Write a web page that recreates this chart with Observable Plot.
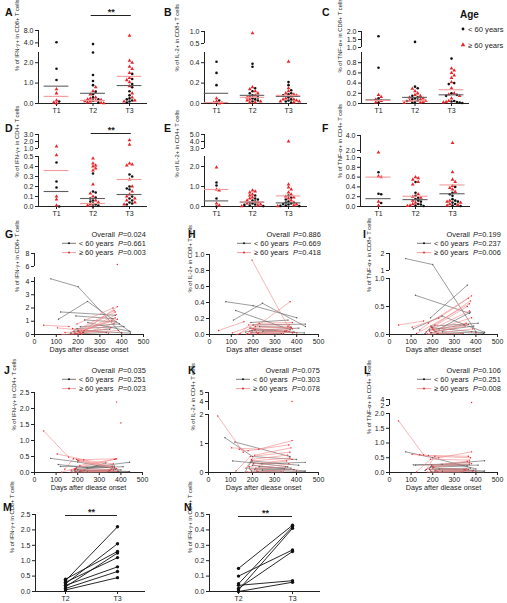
<!DOCTYPE html>
<html>
<head>
<meta charset="utf-8">
<script src="https://cdn.jsdelivr.net/npm/d3@7"></script>
<script src="https://cdn.jsdelivr.net/npm/@observablehq/plot@0.6"></script>
<style>
  html, body { margin: 0; padding: 0; background: #fff; overflow: hidden; }
  #fig { position: relative; width: 507px; height: 603px; background: #fff; }
</style>
</head>
<body>
<div id="fig"></div>
<script>
// ---------------------------------------------------------------------------
// Cytokine-producing T cells over time, split by age group.
// Patient-level table: age group, sampling day at T1/T2/T3 and the six
// measurements ([T1, T2, T3], null = not sampled).
// ---------------------------------------------------------------------------
const patients = ["B1","B2","B3","B4","B5","B6","B7","B8","B9","B10","B11","B12",
                  "R1","R2","R3","R4","R5","R6","R7","R8","R9","R10","R11","R12","R13","R14","R15"];
const YOUNG = "< 60 years", OLD = "≥ 60 years";
const ageGroup = [YOUNG,YOUNG,YOUNG,YOUNG,YOUNG,YOUNG,YOUNG,YOUNG,YOUNG,YOUNG,YOUNG,YOUNG,
                  OLD,OLD,OLD,OLD,OLD,OLD,OLD,OLD,OLD,OLD,OLD,OLD,OLD,OLD,OLD];
const dayT1 = [110,75,120,165,null,null,null,null,null,null,null,null,
               42,105,140,170,125,null,null,null,null,null,null,null,null,null,null];
const dayT2 = [243,200,null,195,190,200,230,185,210,245,195,225,
               158,228,180,210,190,195,200,205,185,215,190,220,null,null,175];
const dayT3 = [440,400,370,410,360,440,375,345,390,435,330,null,
               null,380,365,375,370,360,370,380,355,365,350,385,380,400,340];

const ifnCD8 = [[1.15,2.5,0.2],[4.2,3.6,0.05],[1.7,null,1.45],[0.1,0.45,0.6],[null,1.4,1.2],[null,0.3,0.1],
  [null,1.1,0.95],[null,0.2,0.4],[null,0.58,0.8],[null,0.9,0.25],[null,0.05,0.15],[null,0.15,null],
  [0.7,0.6,null],[0.5,0.3,2.1],[0.15,0.2,1.8],[0.05,0.12,1.5],[0.0,0.05,1.25],[null,0.8,2.0],[null,0.25,1.7],
  [null,0.18,1.15],[null,0.1,1.05],[null,0.03,0.85],[null,0.02,0.5],[null,0.15,0.3],[null,null,6.3],
  [null,null,0.15],[null,0.45,0.1]];
const il2CD8 = [[0.18,0.39,0.1],[0.41,0.36,0.21],[0.30,null,0.06],[0.03,0.05,0.08],[null,0.15,0.18],[null,0.12,0.13],
  [null,0.1,0.09],[null,0.08,0.04],[null,0.06,0.03],[null,0.04,0.02],[null,0.03,0.01],[null,0.02,null],
  [0.05,0.16,null],[0.02,0.14,0.15],[0.01,0.12,0.12],[0.005,0.1,0.08],[0.0,0.08,0.09],[null,0.93,0.1],[null,0.07,0.41],
  [null,0.06,0.07],[null,0.04,0.05],[null,0.03,0.04],[null,0.02,0.04],[null,0.01,0.03],[null,null,0.02],
  [null,null,0.02],[null,0.01,0.01]];
const tnfCD8 = [[0.1,0.33,0.04],[1.7,1.35,0.05],[0.7,null,0.38],[0.02,0.15,0.2],[null,0.3,0.88],[null,0.12,0.03],
  [null,0.1,0.4],[null,0.08,0.17],[null,0.06,0.15],[null,0.05,0.02],[null,0.03,0.01],[null,0.02,null],
  [0.17,0.24,null],[0.13,0.29,0.69],[0.08,0.2,0.65],[0.05,0.17,0.6],[0.02,0.15,0.55],[null,0.12,0.5],[null,0.1,0.42],
  [null,0.08,0.3],[null,0.06,0.2],[null,0.05,0.18],[null,0.03,0.15],[null,0.02,0.1],[null,null,0.05],
  [null,null,0.03],[null,0.01,0.02]];
const ifnCD4 = [[0.25,0.15,0.32],[0.44,0.33,0.08],[0.19,null,0.2],[0.0,0.14,0.18],[null,0.09,0.17],[null,0.08,0.03],
  [null,0.06,0.1],[null,0.05,0.06],[null,0.03,0.04],[null,0.02,0.02],[null,0.01,0.3],[null,0.0,null],
  [1.3,0.48,null],[0.58,0.4,0.43],[0.1,0.43,0.27],[0.07,0.22,0.42],[0.01,0.13,0.41],[null,0.41,0.2],[null,0.38,0.15],
  [null,0.36,0.12],[null,0.1,0.1],[null,0.06,0.08],[null,0.04,0.06],[null,0.02,0.04],[null,null,2.2],
  [null,null,1.55],[null,0.01,0.02]];
const il2CD4 = [[0.4,0.3,0.35],[1.2,0.55,0.45],[1.05,null,0.55],[0.0,0.4,0.25],[null,0.35,0.2],[null,0.25,0.05],
  [null,0.2,0.15],[null,0.15,0.12],[null,0.1,0.1],[null,0.08,0.03],[null,0.05,0.02],[null,0.02,null],
  [1.95,0.7,null],[0.85,0.8,1.1],[0.8,0.75,0.95],[0.15,0.6,0.85],[0.05,0.55,0.7],[null,0.45,0.6],[null,0.4,0.5],
  [null,0.3,0.45],[null,0.2,0.4],[null,0.15,0.3],[null,0.1,0.2],[null,0.05,0.1],[null,null,4.0],
  [null,null,0.05],[null,0.02,0.02]];
const tnfCD4 = [[0.26,0.28,0.4],[0.7,0.5,0.12],[0.25,null,0.28],[0.07,0.22,0.25],[null,0.18,0.22],[null,0.15,0.05],
  [null,0.12,0.15],[null,0.1,0.1],[null,0.05,0.08],[null,0.04,0.02],[null,0.02,0.01],[null,0.01,null],
  [1.75,0.6,null],[0.62,0.5,0.7],[0.6,0.58,0.55],[0.1,0.55,0.5],[0.02,0.45,0.42],[null,0.25,0.38],[null,0.2,0.35],
  [null,0.18,0.3],[null,0.12,0.12],[null,0.08,0.1],[null,0.05,0.08],[null,0.02,0.05],[null,null,3.0],
  [null,null,0.03],[null,0.01,0.02]];

// Group summary lines drawn across each time point (T1, T2, T3)
const meanIfnCD8 = {young: [0.85, 0.50, 0.88], old: [0.35, 0.15, 1.33]};
const meanIl2CD8 = {young: [0.10, 0.08, 0.07], old: [0.01, 0.06, 0.08]};
const meanTnfCD8 = {young: [0.07, 0.12, 0.17], old: [0.06, 0.05, 0.27]};
const meanIfnCD4 = {young: [0.15, 0.08, 0.12], old: [0.36, 0.03, 0.27]};
const meanIl2CD4 = {young: [0.28, 0.22, 0.18], old: [0.85, 0.23, 0.53]};
const meanTnfCD4 = {young: [0.16, 0.14, 0.26], old: [0.60, 0.21, 0.44]};

// Mixed-model P values: overall, < 60 years, ≥ 60 years
const pIfnCD8 = ["0.024", "0.661", "0.003"];
const pIl2CD8 = ["0.886", "0.669", "0.418"];
const pTnfCD8 = ["0.199", "0.237", "0.006"];
const pIfnCD4 = ["0.035", "0.251", "0.023"];
const pIl2CD4 = ["0.075", "0.303", "0.078"];
const pTnfCD4 = ["0.106", "0.251", "0.008"];

// Paired T2 -> T3 samples
const pairedCD8_T2 = [0.40, 0.35, 0.30, 0.25, 0.20, 0.15, 0.10, 0.05];
const pairedCD8_T3 = [1.30, 2.10, 1.10, 1.55, 0.80, 1.25, 0.65, 0.45];
const pairedCD4_T2 = [0.15, 0.10, 0.05, 0.04, 0.02, 0.01, 0.00];
const pairedCD4_T3 = [0.43, 0.27, 0.42, 0.07, 0.26, 0.41, 0.06];

const timeLabels = ["T1", "T2", "T3"];
const dayTicks = [0, 100, 200, 300, 400, 500];

// ---------------------------------------------------------------------------
const W = 507, H = 603;
const FONT = "Arial, 'Liberation Sans', Helvetica, sans-serif";
const AXIS = "#222";
const BLACK = "#111", RED = "#e8252a";
const BLACK_LINE = "#5a5a5a", RED_LINE = "#f08585";
const BLACK_MEAN = "#5f5f5f", RED_MEAN = "#f39a9a";
const TITLE_SIZE = 5.8;
const f1 = d3.format(".1f");
const fig = document.getElementById("fig");
const days = [dayT1, dayT2, dayT3];

function tidy(values) {
  const rows = [];
  patients.forEach((id, i) => values[i].forEach((v, k) => {
    if (v != null) rows.push({id, group: ageGroup[i], t: k + 1, day: days[k][i], v});
  }));
  return rows;
}

// simple beeswarm offset inside each time column (pixel based)
function swarm(rows, ys, pxPerUnit) {
  const out = [], gap = 2.7;
  for (const t of [1, 2, 3]) {
    const placed = [];
    rows.filter(r => r.t === t).sort((a, b) => d3.descending(a.v, b.v)).forEach(r => {
      const py = ys(r.v);
      let off = 0;
      for (let k = 0; k < 30; k++) {
        const cand = (k % 2 ? 1 : -1) * Math.ceil(k / 2) * gap;
        if (placed.every(p => Math.hypot(p.x - cand, p.y - py) >= gap)) { off = cand; break; }
      }
      placed.push({x: off, y: py});
      out.push({...r, xj: t + off / pxPerUnit});
    });
  }
  return out;
}

function svgStyle() {
  return `position:absolute;left:0;top:0;background:none;overflow:visible;max-width:none;width:${W}px;height:${H}px;font-family:${FONT};font-size:7px;color:${AXIS};`;
}

function frame(c) {
  return {
    width: W, height: H,
    marginLeft: c.axisX, marginRight: W - c.right,
    marginTop: d3.min(c.yRange), marginBottom: H - c.base,
    style: svgStyle()
  };
}

function yTitle(c) {
  return Plot.text([c.title], {frameAnchor: "left", rotate: -90, dx: c.titleX - c.axisX, dy: c.titleDy || 0,
    fontSize: TITLE_SIZE, fill: AXIS});
}

// Scatter of the three time points with group summary lines
function dotPanel(c) {
  const step = (c.t3 - c.t1) / 2;
  const x0 = 1 - (c.t1 - c.axisX) / step, x1 = 3 + (c.right - c.t3) / step;
  const ys = d3.scaleLinear(c.yDomain, c.yRange);
  const rows = swarm(tidy(c.values), ys, step);
  const yTop = c.yDomain[c.yDomain.length - 1];
  const mYoung = c.means.young.map((v, k) => ({t: k + 1, v}));
  const mOld = c.means.old.map((v, k) => ({t: k + 1, v}));
  const marks = [
    Plot.ruleY([0], {stroke: AXIS, strokeWidth: 1}),
    Plot.ruleX(c.segs, {x: () => x0, y1: d => d[0], y2: d => d[1], stroke: AXIS, strokeWidth: 1}),
    Plot.dot(rows.filter(r => r.group === YOUNG), {x: "xj", y: "v", r: 1.3, fill: BLACK, symbol: "circle"}),
    Plot.dot(rows.filter(r => r.group === OLD), {x: "xj", y: "v", r: 1.4, fill: RED, symbol: "triangle"}),
    Plot.ruleY(mYoung, {y: "v", x1: d => d.t - 0.34, x2: d => d.t + 0.34, stroke: BLACK_MEAN, strokeWidth: 1.1}),
    Plot.ruleY(mOld, {y: "v", x1: d => d.t - 0.34, x2: d => d.t + 0.34, stroke: RED_MEAN, strokeWidth: 1.1}),
    yTitle(c)
  ];
  if (c.sig) {
    marks.push(
      Plot.ruleY([yTop], {x1: c.sig[0], x2: c.sig[1], dy: c.sig[2], stroke: AXIS, strokeWidth: 1}),
      Plot.text(["**"], {x: (c.sig[0] + c.sig[1]) / 2, y: () => yTop, dy: c.sig[2] - 3, fontSize: 9, fontWeight: "bold", fill: AXIS})
    );
  }
  fig.appendChild(Plot.plot({
    ...frame(c),
    x: {type: "linear", domain: [x0, x1], ticks: [1, 2, 3], tickFormat: d => timeLabels[d - 1], tickSize: 3, tickPadding: 2, label: null},
    y: {type: "linear", domain: c.yDomain, range: c.yRange, ticks: c.yTicks, tickFormat: c.fmt || f1, tickSize: 3, tickPadding: 2, label: null},
    marks
  }));
}

// Individual trajectories against days after onset
function trajPanel(c) {
  const rows = tidy(c.values);
  const young = rows.filter(r => r.group === YOUNG);
  const old = rows.filter(r => r.group === OLD);
  fig.appendChild(Plot.plot({
    ...frame(c),
    x: {type: "linear", domain: [0, 500], ticks: dayTicks, tickFormat: d => String(d), tickSize: 3, tickPadding: 2, label: null},
    y: {type: "linear", domain: c.yDomain, range: c.yRange, ticks: c.yTicks, tickFormat: c.fmt, tickSize: 3, tickPadding: 2, label: null},
    marks: [
      Plot.ruleY([0], {stroke: AXIS, strokeWidth: 1}),
      Plot.ruleX(c.segs, {x: () => 0, y1: d => d[0], y2: d => d[1], stroke: AXIS, strokeWidth: 1}),
      Plot.line(young, {x: "day", y: "v", z: "id", stroke: BLACK_LINE, strokeWidth: 0.6}),
      Plot.line(old, {x: "day", y: "v", z: "id", stroke: RED_LINE, strokeWidth: 0.6}),
      Plot.dot(young, {x: "day", y: "v", r: 0.7, fill: BLACK_LINE}),
      Plot.dot(old, {x: "day", y: "v", r: 0.7, fill: RED}),
      yTitle({...c, titleDy: -2}),
      Plot.text([c.xTitle], {frameAnchor: "bottom", dy: 17, fontSize: 7.2, fill: AXIS})
    ]
  }));
  legendP(c.axisX, c.legendY, c.p);
}

// Paired T2 -> T3 panel
function pairPanel(c) {
  const rows = [];
  c.t2v.forEach((v, i) => { rows.push({id: i, t: 2, v}); rows.push({id: i, t: 3, v: c.t3v[i]}); });
  const step = c.t3 - c.t2;
  const x0 = 2 - (c.t2 - c.axisX) / step, x1 = 3 + (c.right - c.t3) / step;
  const yTop = c.yDomain[1];
  fig.appendChild(Plot.plot({
    ...frame(c),
    x: {type: "linear", domain: [x0, x1], ticks: [2, 3], tickFormat: d => timeLabels[d - 1], tickSize: 3, tickPadding: 2, label: null},
    y: {type: "linear", domain: c.yDomain, range: c.yRange, ticks: c.yTicks, tickFormat: f1, tickSize: 3, tickPadding: 2, label: null},
    marks: [
      Plot.ruleY([0], {stroke: AXIS, strokeWidth: 1}),
      Plot.ruleX([c.yDomain], {x: () => x0, y1: d => d[0], y2: d => d[1], stroke: AXIS, strokeWidth: 1}),
      Plot.line(rows, {x: "t", y: "v", z: "id", stroke: BLACK, strokeWidth: 0.9}),
      Plot.dot(rows, {x: "t", y: "v", r: 1.7, fill: BLACK}),
      Plot.ruleY([yTop], {x1: 2, x2: 3, dy: c.sigDy, stroke: AXIS, strokeWidth: 1}),
      Plot.text(["**"], {x: 2.5, y: () => yTop, dy: c.sigDy - 3, fontSize: 9, fontWeight: "bold", fill: AXIS}),
      yTitle(c)
    ]
  }));
}

// ---------------------------------------------------------------------------
// Annotation layer: panel letters, age legend and P-value legends
const ann = d3.select(fig).append("svg")
  .attr("width", W).attr("height", H)
  .attr("style", `position:absolute;left:0;top:0;overflow:visible;font-family:${FONT};`);

function legendP(axisX, y0, p) {
  const rows = [["Overall", null, p[0]], [YOUNG, BLACK_LINE, p[1]], [OLD, RED_LINE, p[2]]];
  rows.forEach(([name, col, pv], i) => {
    const y = y0 + i * 9.3;
    if (col) {
      ann.append("line").attr("x1", axisX + 28).attr("x2", axisX + 42).attr("y1", y).attr("y2", y)
        .attr("stroke", col).attr("stroke-width", 0.8);
      ann.append("circle").attr("cx", axisX + 35).attr("cy", y).attr("r", 1)
        .attr("fill", col === RED_LINE ? RED : BLACK);
      ann.append("text").attr("x", axisX + 45).attr("y", y + 2.6).attr("font-size", 7.4).attr("fill", AXIS).text(name);
    } else {
      ann.append("text").attr("x", axisX + 81).attr("y", y + 2.6).attr("font-size", 7.4)
        .attr("text-anchor", "end").attr("fill", AXIS).text(name);
    }
    const t = ann.append("text").attr("x", axisX + 84).attr("y", y + 2.6).attr("font-size", 7.4).attr("fill", AXIS);
    t.append("tspan").attr("font-style", "italic").text("P");
    t.append("tspan").text("=" + pv);
  });
}

const letters = [["A",5,12],["B",164,12],["C",322,12],["D",5,128],["E",164,128],["F",322,128],
  ["G",5,234],["H",188,234],["I",363,234],["J",4,370],["K",188,370],["L",364,370],["M",3,507],["N",184,507]];
letters.forEach(([s, x, y]) => ann.append("text").attr("x", x).attr("y", y + 3.8)
  .attr("font-size", 10.5).attr("font-weight", "bold").attr("fill", "#111").text(s));

ann.append("text").attr("x", 460).attr("y", 17.5).attr("font-size", 10).attr("font-weight", "bold").attr("fill", "#111").text("Age");
ann.append("circle").attr("cx", 463).attr("cy", 29).attr("r", 1.4).attr("fill", BLACK);
ann.append("text").attr("x", 468).attr("y", 31.7).attr("font-size", 7.6).attr("fill", AXIS).text(YOUNG);
ann.append("path").attr("d", d3.symbol(d3.symbolTriangle, 9)()).attr("transform", "translate(463,45)").attr("fill", RED);
ann.append("text").attr("x", 468).attr("y", 47.7).attr("font-size", 7.6).attr("fill", AXIS).text(OLD);

// ---------------------------------------------------------------------------
const tA = "% of IFN-γ+ in CD8+ T cells", tB = "% of IL-2+ in CD8+ T cells", tC = "% of TNF-α+ in CD8+ T cells";
const tD = "% of IFN-γ+ in CD4+ T cells", tE = "% of IL-2+ in CD4+ T cells", tF = "% of TNF-α+ in CD4+ T cells";

dotPanel({values: ifnCD8, means: meanIfnCD8, title: tA, titleX: 17, titleDy: 4, axisX: 38, t1: 56, t3: 129, right: 147, base: 103,
  yDomain: [0, 2.5, 2.5001, 8], yRange: [103, 52, 47, 30], yTicks: [0, 1, 2, 4, 8], segs: [[0, 2.5], [2.5001, 8]], sig: [1.95, 3.05, -15]});
dotPanel({values: il2CD8, means: meanIl2CD8, title: tB, titleX: 177, titleDy: 4, axisX: 204, t1: 216, t3: 288, right: 307, base: 103,
  yDomain: [0, 0.5, 0.5001, 1], yRange: [103, 52, 43, 31], yTicks: [0, 0.2, 0.4, 0.5001, 1], segs: [[0, 0.5], [0.5001, 1]]});
dotPanel({values: tnfCD8, means: meanTnfCD8, title: tC, titleX: 340, titleDy: 5, axisX: 361, t1: 378, t3: 451, right: 469, base: 103,
  yDomain: [0, 1, 1.0001, 2], yRange: [103, 52, 47, 31], yTicks: [0, 0.2, 0.4, 0.6, 0.8, 1.0001, 1.5, 2], segs: [[0, 1], [1.0001, 2]]});
dotPanel({values: ifnCD4, means: meanIfnCD4, title: tD, titleX: 17, titleDy: 7, axisX: 38, t1: 56, t3: 129, right: 147, base: 206,
  yDomain: [0, 0.5, 1, 3], yRange: [206, 156, 148, 134], yTicks: [0, 0.1, 0.2, 0.3, 0.4, 0.5, 1, 2, 3], segs: [[0, 0.5], [1, 3]], sig: [1.95, 3.05, -1]});
dotPanel({values: il2CD4, means: meanIl2CD4, title: tE, titleX: 177, titleDy: 7, axisX: 204, t1: 216, t3: 288, right: 307, base: 206,
  yDomain: [0, 2.5, 3, 5], yRange: [206, 156, 148, 134], yTicks: [0, 1, 2, 3, 4, 5], segs: [[0, 2.5], [3, 5]]});
dotPanel({values: tnfCD4, means: meanTnfCD4, title: tF, titleX: 340, titleDy: 7, axisX: 360, t1: 378, t3: 452, right: 470, base: 206,
  yDomain: [0, 1, 1.6, 4], yRange: [206, 157, 153, 135], yTicks: [0, 0.2, 0.4, 0.6, 0.8, 1, 2, 4], segs: [[0, 1], [1.6, 4]]});

const fInt = d => String(Math.round(d));
const fBreak = lim => d => d > lim ? String(Math.round(d)) : f1(d);
const x1T = "Days after disease onset", xT = "Days after diease onset";

trajPanel({values: ifnCD8, p: pIfnCD8, title: tA, titleX: 17, xTitle: x1T, axisX: 34, right: 143, base: 334, legendY: 234,
  yDomain: [0, 4.3, 6, 8], yRange: [334, 277, 266, 253], yTicks: [0, 1, 2, 3, 4, 6, 8], fmt: fInt, segs: [[0, 4.3], [6, 8]]});
trajPanel({values: il2CD8, p: pIl2CD8, title: tB, titleX: 190, xTitle: xT, axisX: 209, right: 318, base: 334, legendY: 234,
  yDomain: [0, 1], yRange: [334, 254], yTicks: [0, 0.2, 0.4, 0.6, 0.8, 1], fmt: f1, segs: [[0, 1]]});
trajPanel({values: tnfCD8, p: pTnfCD8, title: tC, titleX: 369, xTitle: xT, axisX: 389, right: 497, base: 334, legendY: 234,
  yDomain: [0, 1, 1.0001, 2], yRange: [334, 278, 270, 253], yTicks: [0, 0.5, 1, 1.0001, 2], fmt: fBreak(1.00005), segs: [[0, 1], [1.0001, 2]]});
trajPanel({values: ifnCD4, p: pIfnCD4, title: tD, titleX: 14, xTitle: xT, axisX: 34, right: 142, base: 472, legendY: 370,
  yDomain: [0, 2.5], yRange: [472, 392], yTicks: [0, 0.5, 1, 1.5, 2, 2.5], fmt: f1, segs: [[0, 2.5]]});
trajPanel({values: il2CD4, p: pIl2CD4, title: tE, titleX: 193, xTitle: xT, axisX: 208, right: 318, base: 472, legendY: 370,
  yDomain: [0, 2, 3, 5], yRange: [472, 414, 410, 392], yTicks: [0, 1, 2, 4, 5], fmt: fInt, segs: [[0, 2], [3, 5]]});
trajPanel({values: tnfCD4, p: pTnfCD4, title: tF, titleX: 369, xTitle: xT, axisX: 389, right: 497, base: 472, legendY: 370,
  yDomain: [0, 2, 2.0001, 4], yRange: [472, 413, 405, 399], yTicks: [0, 0.5, 1, 1.5, 2, 2.0001, 4], fmt: fBreak(2.00005), segs: [[0, 2], [2.0001, 4]]});

pairPanel({t2v: pairedCD8_T2, t3v: pairedCD8_T3, title: tA, titleX: 12, axisX: 35, t2: 65, t3: 117, right: 145, base: 591,
  yDomain: [0, 2.5], yRange: [591, 514], yTicks: [0, 0.5, 1, 1.5, 2, 2.5], sigDy: 1});
pairPanel({t2v: pairedCD4_T2, t3v: pairedCD4_T3, title: tD, titleX: 190, axisX: 209, t2: 238, t3: 292, right: 320, base: 591,
  yDomain: [0, 0.5], yRange: [591, 514], yTicks: [0, 0.1, 0.2, 0.3, 0.4, 0.5], sigDy: 2});

// keep the annotation layer on top
fig.appendChild(ann.node());
</script>
</body>
</html>
